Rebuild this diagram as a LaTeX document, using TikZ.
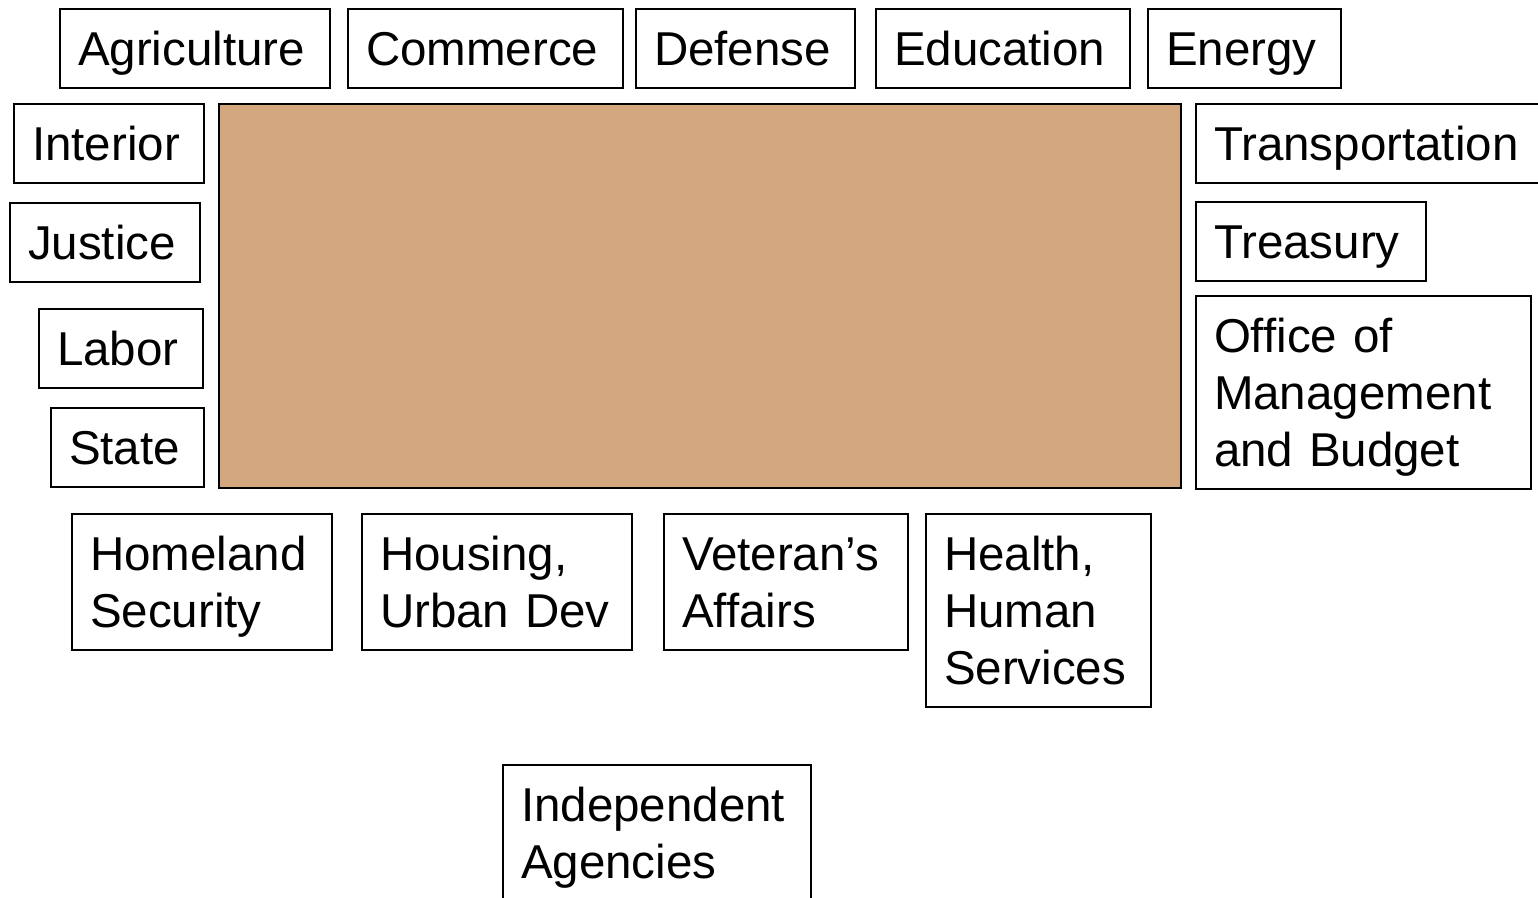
\documentclass[tikz,border=0pt]{standalone}
\usepackage{fontspec}
\setmainfont{Liberation Sans}
\definecolor{cabinettan}{RGB}{212,168,126}
\newcommand{\deptstrut}{\rule[-12pt]{0pt}{57pt}}

\begin{document}
\begin{tikzpicture}[x=1pt, y=-1pt,
	dept/.style={draw, line width=2pt, anchor=north west, align=left,
		inner xsep=18pt, inner ysep=11pt,
		font=\fontsize{47.5}{57}\selectfont,
		execute at begin node=\deptstrut, execute at end node=\deptstrut}]

	\useasboundingbox (0,0) rectangle (1538,897);

	\node[draw, line width=2pt, fill=cabinettan, anchor=north west, inner sep=0pt,
		minimum width=962pt, minimum height=384pt] (core) at (218,103) {};

	\node[dept, text width=234pt] (agri) at (59,8) {Agriculture};
	\node[dept, text width=239pt] (comm) at (347,8) {Commerce};
	\node[dept, text width=183pt] (defense) at (635,8) {Defense};
	\node[dept, text width=218pt] (edu) at (875,8) {Education};
	\node[dept, text width=157pt] (energy) at (1147,8) {Energy};

	\node[dept, text width=154pt] (interior) at (13,103) {Interior};
	\node[dept, text width=154pt] (justice) at (9,202) {Justice};
	\node[dept, text width=128pt] (labor) at (38,308) {Labor};
	\node[dept, text width=117pt] (state) at (50,407) {State};

	\node[dept, text width=314pt] (transp) at (1195,103) {Transportation};
	\node[dept, text width=194pt] (treas) at (1195,201) {Treasury};
	\node[dept, text width=299pt] (omb) at (1195,295) {Office of\\Management\\and Budget};

	\node[dept, text width=224pt] (homeland) at (71,513) {Homeland\\Security};
	\node[dept, text width=234pt] (housing) at (361,513) {Housing,\\Urban Dev};
	\node[dept, text width=208pt] (veterans) at (663,513) {Veteran’s\\Affairs};
	\node[dept, text width=189pt] (health) at (925,513) {Health,\\Human\\Services};

	\node[dept, text width=272pt] (indep) at (502,764) {Independent\\Agencies};

\end{tikzpicture}
\end{document}
